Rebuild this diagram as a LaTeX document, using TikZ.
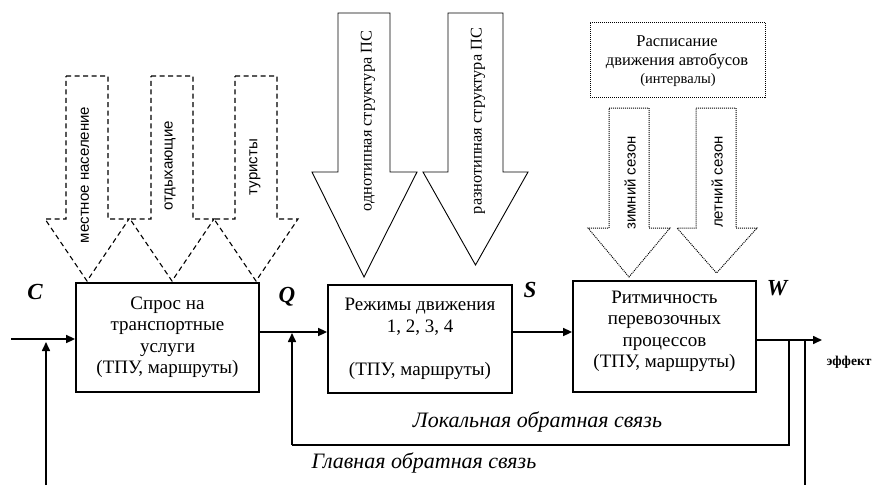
\documentclass[tikz,border=0pt]{standalone}
\usepackage{fontspec}
\setmainfont{Liberation Serif}
\newfontfamily\arialfont{Liberation Sans}
\usetikzlibrary{arrows.meta}
\begin{document}
\begin{tikzpicture}[x=1pt, y=-1pt, >={Triangle[length=9pt,width=8pt]},
		every node/.style={inner sep=0pt, align=center},
		box/.style={draw, line width=1.8pt, minimum width=183pt, minimum height=109pt},
		txt/.style={font=\fontsize{19}{21.5}\selectfont},
		conn/.style={->, line width=1.6pt},
		fb/.style={line width=1.4pt},
		dashbox/.style={line width=1.1pt, dash pattern=on 5pt off 3.5pt},
		dotbox/.style={line width=1pt, dash pattern=on 1pt off 1pt},
		solidbox/.style={line width=0.9pt},
		sanslab/.style={rotate=90, font=\arialfont\fontsize{15}{17}\selectfont},
		serlab/.style={rotate=90, font=\fontsize{16.3}{20}\selectfont},
		sig/.style={font=\fontsize{23}{26}\selectfont\bfseries\itshape},
		fbtxt/.style={font=\fontsize{22}{26}\selectfont\itshape}]
	\useasboundingbox (0,0) rectangle (885,485);

	% 1. блоки
	\node[box, txt] (b1) at (167.5,337.5) {Спрос на\\транспортные\\услуги\\(ТПУ, маршруты)};
	\node[box, txt, minimum width=184pt, minimum height=108pt] (b2) at (420,339) {Режимы движения\\1, 2, 3, 4\\[21.5pt](ТПУ, маршруты)};
	\node[box, minimum width=183pt, minimum height=111pt] (b3) at (664.5,336.5) {};
	\node[txt] (t3) at (664.5,331.5) {Ритмичность\\перевозочных\\процессов\\(ТПУ, маршруты)};

	% 2. пунктирные стрелки (спрос)
	\draw[dashbox] (66,76) -- (108,76) -- (108,219) -- (129,219) -- (87,281) -- (45,219) -- (66,219) -- cycle;
	\draw[dashbox] (151,76) -- (193,76) -- (193,219) -- (214,219) -- (172,281) -- (130,219) -- (151,219) -- cycle;
	\draw[dashbox] (235,76) -- (277,76) -- (277,219) -- (298,219) -- (256,281) -- (214,219) -- (235,219) -- cycle;
	\node[sanslab] (pop) at (85,175) {местное население};
	\node[sanslab] (rest) at (170,166) {отдыхающие};
	\node[sanslab] (tour) at (255,167) {туристы};

	% 3. сплошные стрелки (структура ПС)
	\draw[solidbox] (338,13) -- (390,13) -- (390,172) -- (417,172) -- (364,277) -- (312,172) -- (338,172) -- cycle;
	\draw[solidbox] (448,13) -- (503,13) -- (503,172) -- (528,172) -- (475.5,265) -- (423,172) -- (448,172) -- cycle;
	\node[serlab] (one) at (368,121) {однотипная структура ПС};
	\node[serlab] (many) at (478,121) {разнотипная структура ПС};

	% 4. расписание и сезоны
	\node[dotbox, draw, minimum width=175pt, minimum height=75pt] (sched) at (677.5,59.5) {};
	\node[font=\fontsize{16.5}{19}\selectfont] (st1) at (677,52.5) {Расписание\\движения автобусов};
	\node[font=\fontsize{14.5}{17}\selectfont] (st2) at (678,80) {(интервалы)};
	\draw[dotbox] (609,108) -- (649,108) -- (649,228) -- (670,228) -- (629,277) -- (588,228) -- (609,228) -- cycle;
	\draw[dotbox] (696,108) -- (736,108) -- (736,228) -- (757,228) -- (716.5,273) -- (677,228) -- (696,228) -- cycle;
	\node[sanslab] (win) at (630,183) {зимний сезон};
	\node[sanslab] (sum) at (717,182) {летний сезон};

	% 5. связи
	\coordinate (in) at (11,339);
	\coordinate (q) at (0,332);
	\coordinate (out) at (822,340);
	\coordinate (lf) at (292,445);
	\coordinate (mf) at (46,485);
	\coordinate (w1) at (789,340);
	\coordinate (w2) at (805,340);
	\draw[conn] (in) -- (b1.west |- in);
	\draw[conn] (mf) -- ([yshift=-3pt]mf |- in);
	\draw[conn] (b1.east |- q) -- (b2.west |- q);
	\draw[conn] (b2.east |- q) -- (b3.west |- q);
	\draw[conn] (b3.east |- out) -- (out);
	\draw[conn] (lf) -- ([yshift=-1pt]lf |- q);
	\draw[fb] (w1) -- (w1 |- lf) -- (lf);
	\draw[line width=1.6pt] (w2) -- (805,485);

	% 6. подписи
	\node[sig] (lc) at (35,292) {C};
	\node[sig] (lq) at (287,297) {Q};
	\node[sig] (ls) at (530,290) {S};
	\node[sig] (lw) at (777,288) {W};
	\node[font=\fontsize{13.5}{16}\selectfont\bfseries] (eff) at (849,362) {эффект};
	\node[fbtxt] (lloc) at (537.5,422) {Локальная обратная связь};
	\node[fbtxt] (lmain) at (424,463) {Главная обратная связь};
\end{tikzpicture}
\end{document}
